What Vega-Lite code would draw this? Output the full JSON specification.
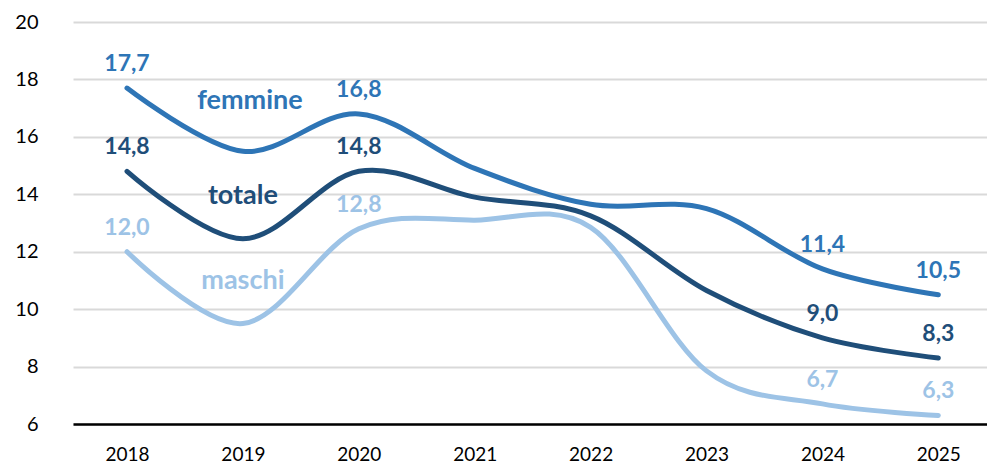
{
  "$schema": "https://vega.github.io/schema/vega-lite/v6.json",
  "autosize": {"type": "none"},
  "width": 914,
  "height": 402,
  "padding": {"left": 73, "top": 22, "right": 0, "bottom": 42},
  "background": "white",
  "config": {
    "view": {"stroke": null},
    "font": "Lato",
    "locale": {"number": {"decimal": ",", "thousands": ".", "grouping": [3], "currency": ["€", ""]}}
  },
  "data": {
    "values": [
      {"anno": "2018", "serie": "femmine", "valore": 17.7},
      {"anno": "2019", "serie": "femmine", "valore": 15.5},
      {"anno": "2020", "serie": "femmine", "valore": 16.8},
      {"anno": "2021", "serie": "femmine", "valore": 14.9},
      {"anno": "2022", "serie": "femmine", "valore": 13.65},
      {"anno": "2023", "serie": "femmine", "valore": 13.5},
      {"anno": "2024", "serie": "femmine", "valore": 11.4},
      {"anno": "2025", "serie": "femmine", "valore": 10.5},
      {"anno": "2018", "serie": "totale", "valore": 14.8},
      {"anno": "2019", "serie": "totale", "valore": 12.45},
      {"anno": "2020", "serie": "totale", "valore": 14.8},
      {"anno": "2021", "serie": "totale", "valore": 13.9},
      {"anno": "2022", "serie": "totale", "valore": 13.25},
      {"anno": "2023", "serie": "totale", "valore": 10.65},
      {"anno": "2024", "serie": "totale", "valore": 9.0},
      {"anno": "2025", "serie": "totale", "valore": 8.3},
      {"anno": "2018", "serie": "maschi", "valore": 12.0},
      {"anno": "2019", "serie": "maschi", "valore": 9.5},
      {"anno": "2020", "serie": "maschi", "valore": 12.8},
      {"anno": "2021", "serie": "maschi", "valore": 13.1},
      {"anno": "2022", "serie": "maschi", "valore": 12.85},
      {"anno": "2023", "serie": "maschi", "valore": 7.85},
      {"anno": "2024", "serie": "maschi", "valore": 6.7},
      {"anno": "2025", "serie": "maschi", "valore": 6.3}
    ]
  },
  "encoding": {
    "x": {
      "field": "anno", "type": "ordinal",
      "scale": {"type": "point", "padding": 0.443, "align": 0.526},
      "axis": {
        "title": null, "labelAngle": 0, "ticks": false, "tickSize": 0,
        "domain": true, "domainColor": "#000000", "domainWidth": 2.5,
        "labelFont": "Lato", "labelFontSize": 19, "labelColor": "#000000",
        "labelPadding": 21, "grid": false, "zindex": 1
      }
    },
    "y": {
      "field": "valore", "type": "quantitative",
      "scale": {"domain": [6, 20], "nice": false, "zero": false},
      "axis": {
        "title": null, "values": [6, 8, 10, 12, 14, 16, 18, 20],
        "domain": false, "ticks": false, "tickSize": 0,
        "grid": true, "gridColor": "#D9D9D9", "gridWidth": 2,
        "labelFont": "Lato", "labelFontSize": 20, "labelColor": "#000000",
        "labelPadding": 35
      }
    },
    "color": {
      "field": "serie", "type": "nominal", "legend": null,
      "scale": {"domain": ["femmine", "totale", "maschi"], "range": ["#2E75B6", "#1F4E79", "#9DC3E6"]}
    }
  },
  "layer": [
    {
      "mark": {"type": "line", "interpolate": "cardinal", "strokeWidth": 5, "strokeCap": "round", "strokeJoin": "round"}
    },
    {
      "transform": [{"filter": {"field": "anno", "oneOf": ["2018", "2020", "2024", "2025"]}}],
      "mark": {"type": "text", "font": "Lato", "fontWeight": "bold", "fontSize": 23, "baseline": "alphabetic", "align": "center", "dy": -17},
      "encoding": {"text": {"field": "valore", "type": "quantitative", "format": ".1f"}}
    },
    {
      "transform": [{"filter": "datum.anno == '2019' && datum.serie == 'femmine'"}],
      "mark": {"type": "text", "font": "Lato", "fontWeight": "bold", "fontSize": 27, "baseline": "alphabetic", "align": "center", "dy": -42, "dx": 7},
      "encoding": {"text": {"field": "serie"}}
    },
    {
      "transform": [{"filter": "datum.anno == '2019' && datum.serie != 'femmine'"}],
      "mark": {"type": "text", "font": "Lato", "fontWeight": "bold", "fontSize": 27, "baseline": "alphabetic", "align": "center", "dy": -34.5},
      "encoding": {"text": {"field": "serie"}}
    }
  ]
}
